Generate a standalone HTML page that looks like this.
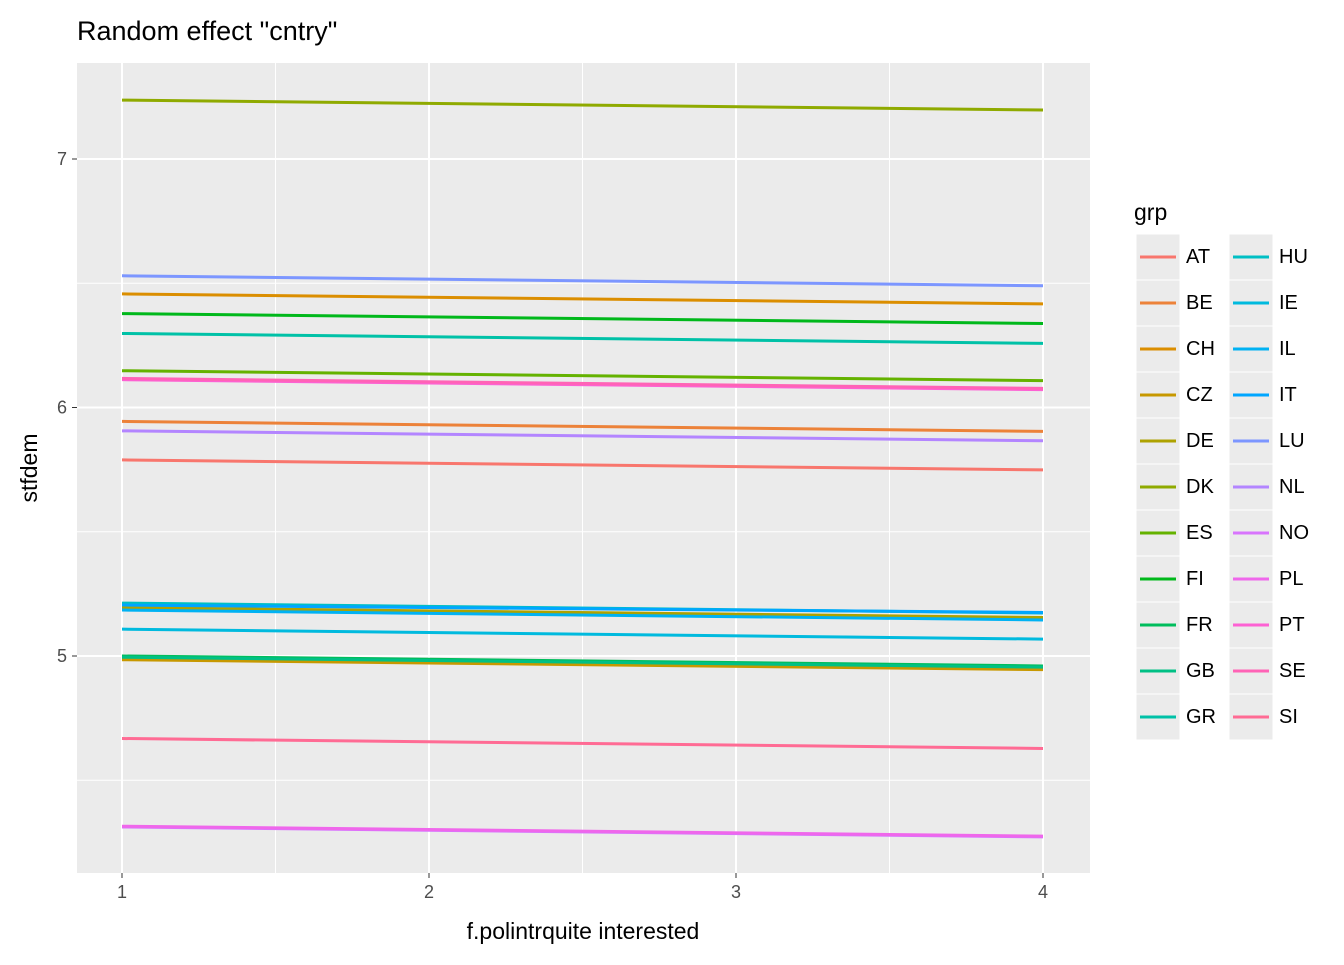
<!DOCTYPE html>
<html><head><meta charset="utf-8"><style>
body{margin:0;background:#fff;font-family:"Liberation Sans",Arial,sans-serif}
</style></head><body>
<svg id="c" width="1344" height="960" xmlns="http://www.w3.org/2000/svg" font-family="Liberation Sans, Arial, sans-serif"></svg>
<script>
const groups=["AT","BE","CH","CZ","DE","DK","ES","FI","FR","GB","GR","HU","IE","IL","IT","LU","NL","NO","PL","PT","SE","SI"];
const startVals=[5.789,5.944,6.457,4.985,5.195,7.237,6.148,6.378,5.0,4.995,6.298,5.213,5.108,5.185,5.205,6.530,5.906,4.312,4.315,6.112,6.117,4.668];
const endVals=[5.749,5.904,6.417,4.945,5.155,7.197,6.108,6.338,4.96,4.955,6.258,5.173,5.068,5.145,5.175,6.490,5.866,4.272,4.275,6.072,6.077,4.628];
const xTicks=[1,2,3,4];
const yTicks=[5,6,7];
const NS="http://www.w3.org/2000/svg";
const svg=document.getElementById('c');
const P={l:77,r:1090,t:63,b:873};
const xs=v=>122+(v-1)*307;
const ys=v=>656-(v-5)*248.5;
function mk(t,a,p){const e=document.createElementNS(NS,t);for(const k in a)e.setAttribute(k,a[k]);(p||svg).appendChild(e);return e;}
function hcl(h){const L=65,C=100,hr=h*Math.PI/180;const U=C*Math.cos(hr),V=C*Math.sin(hr);
const Y=Math.pow((L+16)/116,3);const un=0.19784,vn=0.46834;const u=U/(13*L)+un,v=V/(13*L)+vn;
const X=Y*9*u/(4*v),Z=Y*(12-3*u-20*v)/(4*v);
let r=3.2406*X-1.5372*Y-0.4986*Z,g=-0.9689*X+1.8758*Y+0.0415*Z,b=0.0557*X-0.2040*Y+1.0570*Z;
const f=c=>{c=c<=0.0031308?12.92*c:1.055*Math.pow(c,1/2.4)-0.055;return Math.round(255*Math.max(0,Math.min(1,c)));};
return `rgb(${f(r)},${f(g)},${f(b)})`;}
const cols=groups.map((g,i)=>hcl(15+360*i/groups.length));
let e=mk('rect',{x:P.l,y:P.t,width:P.r-P.l,height:P.b-P.t,fill:'#EBEBEB'});

for(let i=0;i<xTicks.length-1;i++){const x=xs(xTicks[i]+0.5);e=mk('line',{x1:x,x2:x,y1:P.t,y2:P.b,stroke:'#fff','stroke-width':1});}
[4.5,5.5,6.5].forEach(v=>{e=mk('line',{x1:P.l,x2:P.r,y1:ys(v),y2:ys(v),stroke:'#fff','stroke-width':1});});
xTicks.forEach(v=>{const x=xs(v);e=mk('line',{x1:x,x2:x,y1:P.t,y2:P.b,stroke:'#fff','stroke-width':2});
e=mk('line',{x1:x,x2:x,y1:P.b,y2:P.b+5,stroke:'#333','stroke-width':1});
e=mk('text',{x:x,y:P.b+25,'text-anchor':'middle','font-size':18,fill:'#4D4D4D'});e.textContent=v;});
yTicks.forEach(v=>{const y=ys(v);e=mk('line',{x1:P.l,x2:P.r,y1:y,y2:y,stroke:'#fff','stroke-width':2});
e=mk('line',{x1:P.l-5,x2:P.l,y1:y,y2:y,stroke:'#333','stroke-width':1});
e=mk('text',{x:P.l-10,y:y+6,'text-anchor':'end','font-size':18,fill:'#4D4D4D'});e.textContent=v;});
groups.forEach((g,i)=>{e=mk('line',{x1:xs(1),x2:xs(4),y1:ys(startVals[i]),y2:ys(endVals[i]),stroke:cols[i],'stroke-width':3});});
e=mk('text',{x:77,y:40,'font-size':27,fill:'#000'});e.textContent='Random effect "cntry"';
e=mk('text',{x:583,y:939,'text-anchor':'middle','font-size':23,fill:'#000'});e.textContent='f.polintrquite interested';
e=mk('text',{x:37,y:468,'text-anchor':'middle','font-size':23,fill:'#000',transform:'rotate(-90 37 468)'});e.textContent='stfdem';
e=mk('text',{x:1134,y:220,'font-size':23,fill:'#000'});e.textContent='grp';
groups.forEach((g,i)=>{const col=Math.floor(i/11),row=i%11;const x0=1136+col*93,y0=234+row*46;
const gg=mk('g',{});
mk('rect',{x:x0,y:y0,width:44,height:46,fill:'#EBEBEB',stroke:'#fff','stroke-width':1},gg);
mk('line',{x1:x0+4,x2:x0+40,y1:y0+23,y2:y0+23,stroke:cols[i],'stroke-width':3},gg);
const t=mk('text',{x:x0+50,y:y0+29,'font-size':20,fill:'#000'},gg);t.textContent=g;});
</script>
</body></html>
